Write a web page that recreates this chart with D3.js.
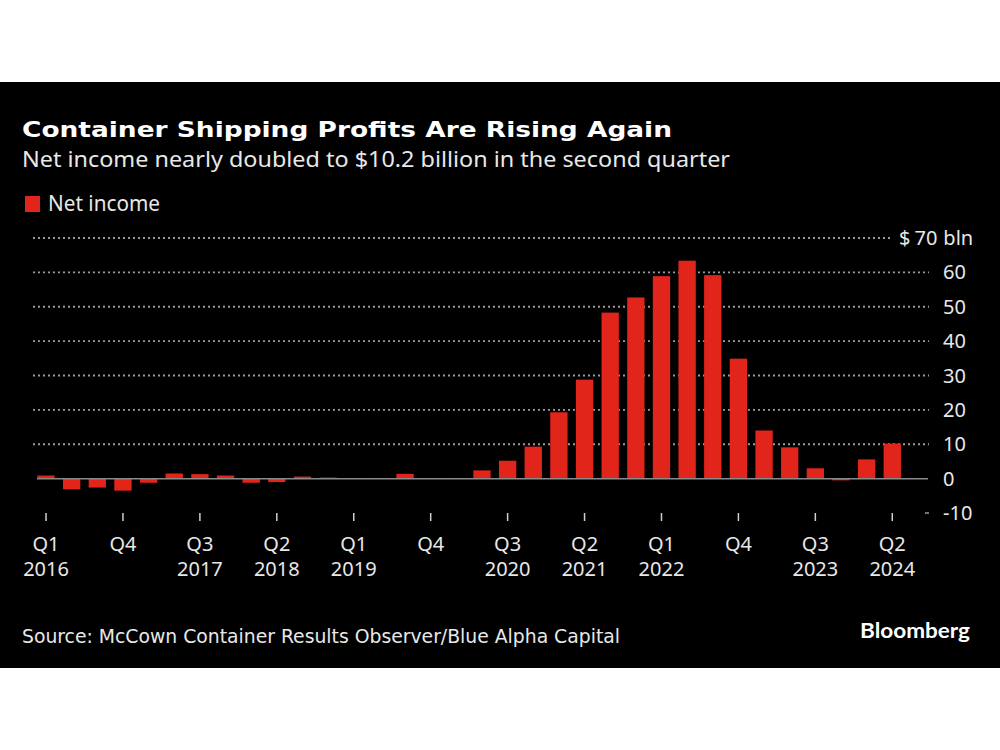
<!DOCTYPE html>
<html>
<head>
<meta charset="utf-8">
<script src="https://cdn.jsdelivr.net/npm/d3@7"></script>
<style>
  html, body { margin: 0; padding: 0; background: #fff; }
  svg { display: block; }
</style>
</head>
<body>
<svg id="chart" width="1000" height="750"></svg>
<script>
const quarters = [
  "Q1 2016","Q2 2016","Q3 2016","Q4 2016",
  "Q1 2017","Q2 2017","Q3 2017","Q4 2017",
  "Q1 2018","Q2 2018","Q3 2018","Q4 2018",
  "Q1 2019","Q2 2019","Q3 2019","Q4 2019",
  "Q1 2020","Q2 2020","Q3 2020","Q4 2020",
  "Q1 2021","Q2 2021","Q3 2021","Q4 2021",
  "Q1 2022","Q2 2022","Q3 2022","Q4 2022",
  "Q1 2023","Q2 2023","Q3 2023","Q4 2023",
  "Q1 2024","Q2 2024"
];
const netIncome = [
  0.9, -3.1, -2.6, -3.5,
  -1.2, 1.5, 1.3, 0.9,
  -1.2, -1.0, 0.6, 0.3,
  0.1, 0.2, 1.4, 0.1,
  0.2, 2.4, 5.2, 9.3,
  19.3, 28.8, 48.3, 52.7,
  58.9, 63.4, 59.2, 34.9,
  14.0, 9.1, 3.0, -0.5,
  5.6, 10.2
];
const tickQuarters = ["Q1 2016","Q4 2016","Q3 2017","Q2 2018","Q1 2019","Q4 2019","Q3 2020","Q2 2021","Q1 2022","Q4 2022","Q3 2023","Q2 2024"];
const tickLine1 = ["Q1","Q4","Q3","Q2","Q1","Q4","Q3","Q2","Q1","Q4","Q3","Q2"];
const tickLine2 = ["2016","","2017","2018","2019","","2020","2021","2022","","2023","2024"];
const yTicks = [-10, 0, 10, 20, 30, 40, 50, 60, 70];
const yTickLabels = ["-10","0","10","20","30","40","50","60","70"];

const title = "Container Shipping Profits Are Rising Again";
const subtitle = "Net income nearly doubled to $10.2 billion in the second quarter";
const legendLabel = "Net income";
const source = "Source: McCown Container Results Observer/Blue Alpha Capital";

const RED = "#e1251b";
const TEXT = "#e8e8e8";
const GRID = "#9a9a9a";
const FONT = "'Noto Sans', 'Open Sans', sans-serif";

const svg = d3.select("#chart");

// black panel
svg.append("rect").attr("x", 0).attr("y", 82).attr("width", 1000).attr("height", 586).attr("fill", "#000");

const x = d3.scaleBand().domain(quarters).range([33.2, 905.1]).paddingInner(0.325).paddingOuter(0.1625);
const y = d3.scaleLinear().domain([-10, 70]).range([513, 238]);

// gridlines
const gridG = svg.append("g");
yTicks.forEach(v => {
  if (v === 0) return;
  if (v === -10) {
    gridG.append("line").attr("x1", 925).attr("x2", 929).attr("y1", y(v)).attr("y2", y(v))
      .attr("stroke", GRID).attr("stroke-width", 1.5);
    return;
  }
  gridG.append("line")
    .attr("x1", 33).attr("x2", v === 70 ? 893 : 929)
    .attr("y1", y(v)).attr("y2", y(v))
    .attr("stroke", GRID).attr("stroke-width", 1.8)
    .attr("stroke-dasharray", "2,3");
});

// bars
svg.append("g").selectAll("rect").data(netIncome).join("rect")
  .attr("x", (d, i) => x(quarters[i]))
  .attr("width", x.bandwidth())
  .attr("y", d => y(Math.max(0, d)))
  .attr("height", d => Math.abs(y(d) - y(0)))
  .attr("fill", RED);

// zero line
svg.append("line").attr("x1", 37).attr("x2", 928).attr("y1", y(0)).attr("y2", y(0))
  .attr("stroke", "#8a8a8a").attr("stroke-width", 1.5);

// y labels
const yl = svg.append("g").selectAll("text").data(yTicks).join("text")
  .attr("x", (d) => d === 70 ? 899 : 943)
  .attr("y", d => y(d))
  .attr("dy", "0.35em")
  .attr("fill", TEXT)
  .style("font-family", FONT)
  .style("font-size", "20px");
yl.each(function(d, i) {
  const t = d3.select(this);
  if (d === 70) {
    t.append("tspan").text("$");
    t.append("tspan").attr("dx", 4).text(yTickLabels[i]);
    t.append("tspan").attr("dx", 6).text("bln");
  } else {
    t.text(yTickLabels[i]);
  }
});

// x axis ticks & labels
const xg = svg.append("g");
tickQuarters.forEach((q, i) => {
  const cx = x(q) + x.bandwidth() / 2;
  xg.append("line").attr("x1", cx).attr("x2", cx).attr("y1", 513).attr("y2", 521)
    .attr("stroke", "#cfcfcf").attr("stroke-width", 1.5);
  xg.append("text").attr("x", cx).attr("y", 544).attr("dy", "0.35em")
    .attr("text-anchor", "middle").attr("fill", TEXT)
    .style("font-family", FONT).style("font-size", "20px").text(tickLine1[i]);
  if (tickLine2[i]) {
    xg.append("text").attr("x", cx).attr("y", 569).attr("dy", "0.35em")
      .attr("text-anchor", "middle").attr("fill", TEXT)
      .style("font-family", FONT).style("font-size", "20px").text(tickLine2[i]);
  }
});

// title & subtitle
svg.append("text").attr("x", 22).attr("y", 137).attr("fill", "#fff")
  .style("font-family", "'DejaVu Sans', sans-serif").style("font-weight", "bold").style("font-size", "21px")
  .attr("textLength", 650).attr("lengthAdjust", "spacingAndGlyphs")
  .text(title);
svg.append("text").attr("x", 22).attr("y", 167).attr("fill", TEXT)
  .style("font-family", FONT).style("font-size", "21px")
  .attr("textLength", 708).attr("lengthAdjust", "spacingAndGlyphs")
  .text(subtitle);

// legend
svg.append("rect").attr("x", 25).attr("y", 196).attr("width", 15).attr("height", 16).attr("fill", RED);
svg.append("text").attr("x", 48).attr("y", 204).attr("dy", "0.35em").attr("fill", TEXT)
  .style("font-family", FONT).style("font-size", "21px")
  .attr("textLength", 112).attr("lengthAdjust", "spacingAndGlyphs")
  .text(legendLabel);

// source
svg.append("text").attr("x", 22).attr("y", 643).attr("fill", TEXT)
  .style("font-family", "'DejaVu Sans Condensed', 'Liberation Sans Narrow', sans-serif").style("font-size", "20px")
  .attr("textLength", 598).attr("lengthAdjust", "spacingAndGlyphs")
  .text(source);

// Bloomberg logo text
svg.append("text").attr("x", 860).attr("y", 638).attr("fill", "#fff")
  .style("font-family", "Lato, 'Open Sans', sans-serif").style("font-weight", "bold").style("font-size", "21px")
  .attr("textLength", 110).attr("lengthAdjust", "spacingAndGlyphs")
  .text("Bloomberg");
</script>
</body>
</html>
